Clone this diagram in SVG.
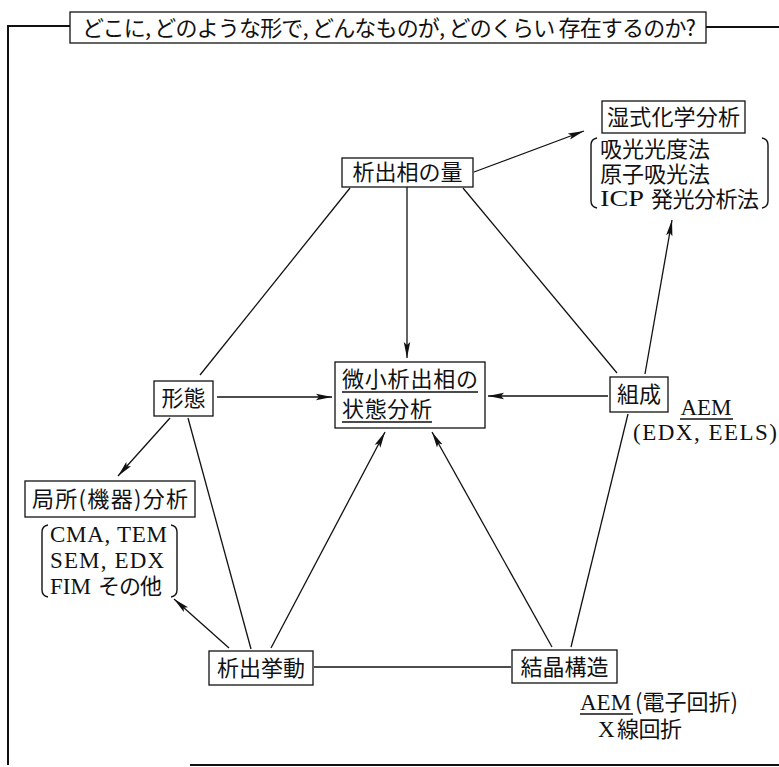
<svg xmlns="http://www.w3.org/2000/svg" width="779" height="767" viewBox="0 0 779 767">
<style>
.jp{font-family:"Noto Sans CJK JP","Noto Sans CJK SC",sans-serif;font-size:22px;fill:#111}
.lat{font-family:"Liberation Serif",serif;font-size:23px;fill:#111}
.box{fill:#fff;stroke:#111;stroke-width:1.3}
.ln{stroke:#111;stroke-width:1.3;fill:none}
.ar{stroke:#111;stroke-width:1.3;fill:none;marker-end:url(#ah)}
.frame{stroke:#111;stroke-width:2;fill:none}
.br{stroke:#111;stroke-width:1.4;fill:none}
</style>
<defs>
<marker id="ah" markerUnits="userSpaceOnUse" markerWidth="17" markerHeight="8" refX="16" refY="4" orient="auto">
<path d="M0,0.8 L16,4 L0,7.2 L3,4 z" fill="#111"/>
</marker>
</defs>
<rect width="779" height="767" fill="#fff"/>

<g id="frame">
<path class="frame" d="M70,26 H8 V765"/>
<path class="frame" d="M706,27 H779"/>
<path class="frame" d="M190,765 H779"/>
</g>

<g id="title">
<rect class="box" x="70" y="12" width="636" height="31"/>
<text class="jp" x="82" y="36" textLength="614" lengthAdjust="spacing">どこに, どのような形で, どんなものが, どのくらい 存在するのか?</text>
</g>

<g id="connectors">
<line class="ar" x1="474" y1="172" x2="584" y2="131"/>
<line class="ar" x1="407" y1="187" x2="407" y2="358"/>
<line class="ln" x1="350" y1="188" x2="200" y2="375"/>
<line class="ln" x1="463" y1="188" x2="617" y2="373"/>
<line class="ar" x1="645" y1="374" x2="672" y2="220"/>
<line class="ar" x1="608" y1="396" x2="488" y2="396"/>
<line class="ar" x1="217" y1="397" x2="332" y2="397"/>
<line class="ar" x1="170" y1="418" x2="118" y2="476"/>
<line class="ln" x1="188" y1="418" x2="251" y2="649"/>
<line class="ar" x1="229" y1="648" x2="174" y2="599"/>
<line class="ar" x1="271" y1="648" x2="385" y2="432"/>
<line class="ln" x1="314" y1="667" x2="511" y2="667"/>
<line class="ar" x1="552" y1="647" x2="432" y2="432"/>
<line class="ln" x1="571" y1="647" x2="628" y2="414"/>
</g>

<g id="n_ryou">
<rect class="box" x="342" y="158" width="131" height="29"/>
<text class="jp" x="407.5" y="180" text-anchor="middle">析出相の量</text>
</g>

<g id="n_shisshiki">
<rect class="box" x="602" y="101" width="143" height="32"/>
<text class="jp" x="673.5" y="125" text-anchor="middle" textLength="133" lengthAdjust="spacing">湿式化学分析</text>
<path class="br" d="M597,138 Q591,139 591,145 V201 Q591,207 597,208"/>
<path class="br" d="M762,138 Q768,139 768,145 V201 Q768,207 762,208"/>
<text class="jp" x="600" y="157">吸光光度法</text>
<text class="jp" x="600" y="182">原子吸光法</text>
<text class="lat" x="600" y="206" textLength="44" lengthAdjust="spacingAndGlyphs">ICP</text>
<text class="jp" x="651" y="207" textLength="108" lengthAdjust="spacing">発光分析法</text>
</g>

<g id="n_center">
<rect class="box" x="335" y="362" width="150" height="66"/>
<text class="jp" x="342" y="387" textLength="136" lengthAdjust="spacing">微小析出相の</text>
<line class="ln" x1="342" y1="392" x2="478" y2="392"/>
<text class="jp" x="342" y="417" textLength="90" lengthAdjust="spacing">状態分析</text>
<line class="ln" x1="342" y1="422" x2="432" y2="422"/>
</g>

<g id="n_keitai">
<rect class="box" x="154" y="381" width="59" height="35"/>
<text class="jp" x="183.5" y="406" text-anchor="middle">形態</text>
</g>

<g id="n_sosei">
<rect class="box" x="610" y="377" width="58" height="35"/>
<text class="jp" x="639" y="402" text-anchor="middle">組成</text>
<text class="lat" x="706" y="415" text-anchor="middle" font-size="24">AEM</text>
<line class="ln" x1="680" y1="419" x2="733" y2="419"/>
<text class="lat" x="633" y="440" textLength="144" lengthAdjust="spacing" font-size="24">(EDX, EELS)</text>
</g>

<g id="n_kyokusho">
<rect class="box" x="25" y="481" width="170" height="36"/>
<text class="jp" x="32" y="507" textLength="156" lengthAdjust="spacing">局所(機器)分析</text>
<path class="br" d="M48,525 Q42,526 42,532 V590 Q42,596 48,597"/>
<path class="br" d="M171,525 Q177,526 177,532 V590 Q177,596 171,597"/>
<text class="lat" x="50" y="542" textLength="117">CMA, TEM</text>
<text class="lat" x="50" y="568" textLength="114">SEM, EDX</text>
<text class="lat" x="50" y="594">FIM</text>
<text class="jp" x="98" y="594" textLength="64" lengthAdjust="spacing">その他</text>
</g>

<g id="n_kyodou">
<rect class="box" x="209" y="651" width="104" height="34"/>
<text class="jp" x="261" y="676" text-anchor="middle">析出挙動</text>
</g>

<g id="n_kesshou">
<rect class="box" x="512" y="650" width="105" height="33"/>
<text class="jp" x="564.5" y="675" text-anchor="middle">結晶構造</text>
<text class="lat" x="580" y="710" font-size="24">AEM</text>
<text class="jp" x="635" y="710" textLength="103" lengthAdjust="spacing">(電子回折)</text>
<line class="ln" x1="580" y1="714" x2="633" y2="714"/>
<text class="lat" x="598" y="737" font-size="24">X</text>
<text class="jp" x="617" y="737" textLength="65" lengthAdjust="spacing">線回折</text>
</g>
</svg>
